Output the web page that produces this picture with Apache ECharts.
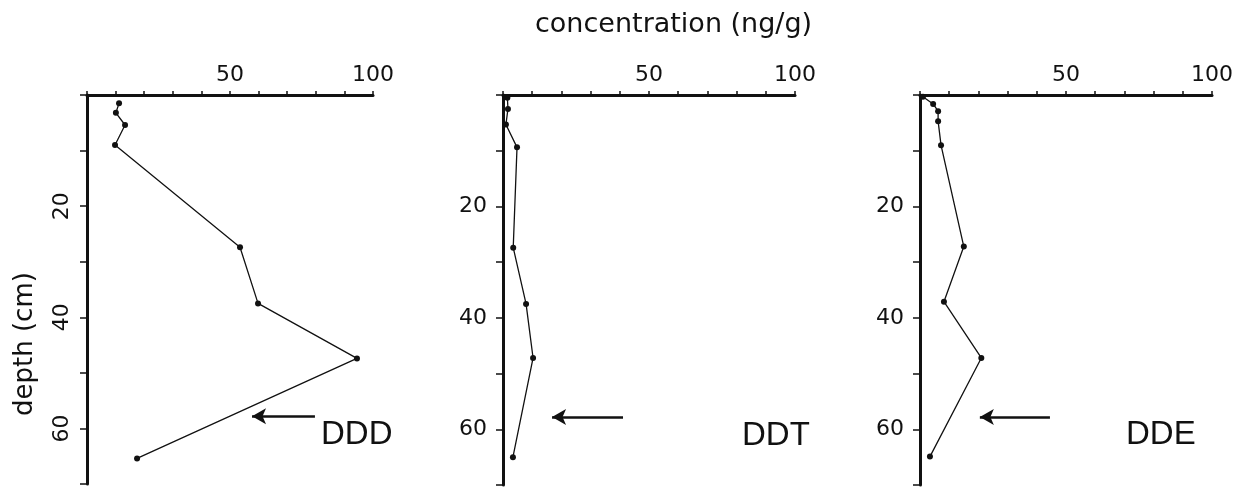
<!DOCTYPE html>
<html>
<head>
<meta charset="utf-8">
<script src="https://cdn.jsdelivr.net/npm/echarts@6/dist/echarts.min.js"></script>
<style>
html,body{margin:0;padding:0;background:#fff;}
#chart{width:1247px;height:487px;}
</style>
</head>
<body>
<div id="chart"></div>
<script>
// ---- data ----
const panelNames = ['DDD', 'DDT', 'DDE'];
const depthDDD = [1.5, 3.2, 5.4, 9.0, 27.4, 37.5, 47.4, 65.4];
const concDDD  = [11.2, 10.1, 13.3, 9.8, 53.5, 59.8, 94.4, 17.5];
const depthDDT = [0.5, 2.5, 5.3, 9.4, 27.4, 37.5, 47.2, 65.0];
const concDDT  = [1.5, 1.7, 1.0, 4.8, 3.5, 7.9, 10.3, 3.4];
const depthDDE = [0.3, 1.6, 2.9, 4.7, 9.0, 27.2, 37.1, 47.2, 64.9];
const concDDE  = [1.0, 4.5, 6.2, 6.2, 7.2, 15.0, 8.2, 21.0, 3.4];
const xTickLabels = [50, 100];
const yTickLabels = [20, 40, 60];
const arrowDepth = 57.8;
const arrowFrom = [79.7, 41.1, 44.5];
const arrowTo   = [57.7, 16.8, 20.5];

const depths = [depthDDD, depthDDT, depthDDE];
const concs  = [concDDD, concDDT, concDDE];

const grids = [
  {left: 87,  top: 95, width: 286, height: 390},
  {left: 503, top: 95, width: 292, height: 390},
  {left: 920, top: 95, width: 292, height: 390}
];
const FONT = 'DejaVu Sans';
const INK = '#111';

const xAxes = grids.map((g, i) => ({
  type: 'value', gridIndex: i, position: 'top', min: 0, max: 100, interval: 10,
  axisLine: {show: true, lineStyle: {color: INK, width: 3}},
  axisTick: {show: true, length: 4, lineStyle: {color: INK, width: 1.5}},
  splitLine: {show: false},
  axisLabel: {
    show: true, margin: 9, color: INK, fontFamily: FONT, fontSize: 22,
    showMaxLabel: true, showMinLabel: true,
    formatter: v => xTickLabels.includes(v) ? String(v) : ''
  }
}));
const yAxes = grids.map((g, i) => ({
  type: 'value', gridIndex: i, inverse: true, min: 0, max: 70, interval: 10,
  axisLine: {show: true, onZero: false, lineStyle: {color: INK, width: 3}},
  axisTick: {show: true, length: 7, lineStyle: {color: INK, width: 1.5}},
  splitLine: {show: false},
  axisLabel: {
    show: true, margin: i === 0 ? 14 : 16, color: INK, fontFamily: FONT, fontSize: 22,
    rotate: i === 0 ? 90 : 0,
    showMaxLabel: true,
    formatter: v => yTickLabels.includes(v) ? String(v) : ''
  }
}));

const series = depths.map((dep, i) => ({
  type: 'line', xAxisIndex: i, yAxisIndex: i,
  data: dep.map((d, k) => [concs[i][k], d]),
  symbol: 'circle', symbolSize: 6, showSymbol: true,
  lineStyle: {color: INK, width: 1.3},
  itemStyle: {color: INK},
  animation: false,
  markLine: {
    silent: true, animation: false,
    symbol: ['arrow', 'none'], symbolSize: [12, 14],
    lineStyle: {color: INK, width: 2.5, type: 'solid'},
    label: {show: false},
    data: [[{coord: [arrowTo[i], arrowDepth]}, {coord: [arrowFrom[i], arrowDepth]}]]
  }
}));

const labelPos = [[321, 418], [742, 419], [1126, 418]];
const graphic = [
  {type: 'text', left: 535, top: 11,
   style: {text: 'concentration (ng/g)', fill: INK, font: '27px "DejaVu Sans"'}},
  {type: 'text', x: 12, y: 416, rotation: Math.PI / 2,
   style: {text: 'depth (cm)', fill: INK, font: '26px "DejaVu Sans"'}}
].concat(panelNames.map((n, i) => ({
  type: 'text', left: labelPos[i][0], top: labelPos[i][1],
  style: {text: n, fill: INK, font: '33px "Liberation Sans"'}
})));

const chart = echarts.init(document.getElementById('chart'), null, {renderer: 'canvas'});
chart.setOption({
  backgroundColor: '#fff',
  animation: false,
  grid: grids,
  xAxis: xAxes,
  yAxis: yAxes,
  series: series,
  graphic: graphic
});
</script>
</body>
</html>
